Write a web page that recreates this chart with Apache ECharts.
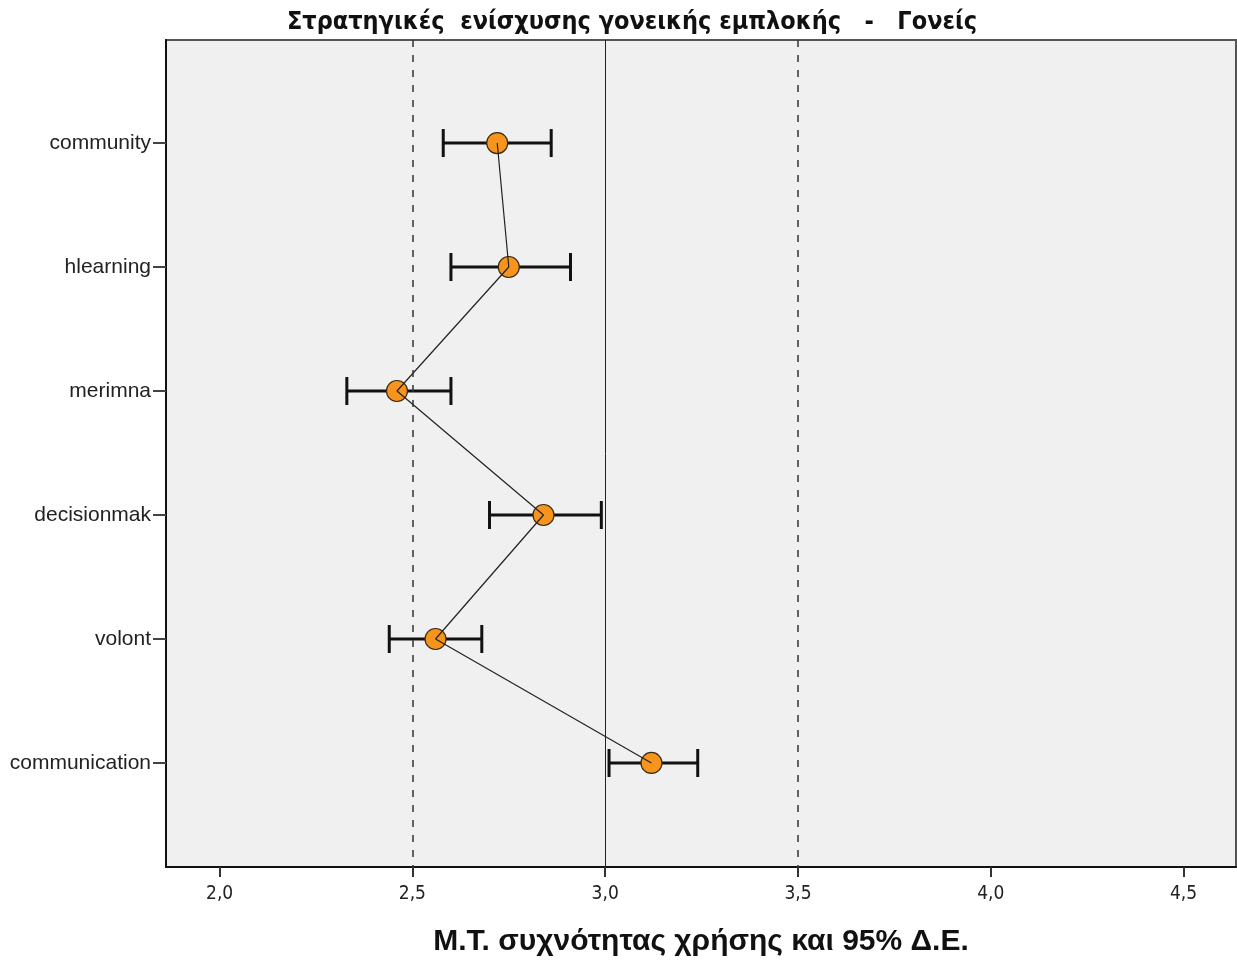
<!DOCTYPE html>
<html>
<head>
<meta charset="utf-8">
<script src="https://cdn.jsdelivr.net/npm/echarts@6/dist/echarts.min.js"></script>
<style>
  html, body { margin: 0; padding: 0; background: #ffffff; }
  #chart { width: 1237px; height: 962px; }
</style>
</head>
<body>
<div id="chart"></div>
<script>
// Strategy names (top to bottom)
const categories = ['community', 'hlearning', 'merimna', 'decisionmak', 'volont', 'communication'];
// Mean frequency of use and 95% confidence interval bounds
const means = [2.72, 2.75, 2.46, 2.84, 2.56, 3.12];
const ciLower = [2.58, 2.60, 2.33, 2.70, 2.44, 3.01];
const ciUpper = [2.86, 2.91, 2.60, 2.99, 2.68, 3.24];
// X axis tick values
const xTicks = [2.0, 2.5, 3.0, 3.5, 4.0, 4.5];
// Reference lines
const dashedRefs = [2.5, 3.5];
const solidRefs = [3.0];

const titleText = 'Στρατηγικές  ενίσχυσης γονεικής εμπλοκής   -   Γονείς';
const xTitle = 'Μ.Τ. συχνότητας χρήσης και 95% Δ.Ε.';

const narrow = '"DejaVu Sans Condensed", "Liberation Sans", sans-serif';

const pointData = means.map((m, i) => [m, i + 1]);
const ciData = categories.map((c, i) => [i + 1, ciLower[i], ciUpper[i]]);

const chart = echarts.init(document.getElementById('chart'), null, { renderer: 'canvas' });

chart.setOption({
  animation: false,
  backgroundColor: '#ffffff',
  title: {
    text: titleText,
    left: 627,
    top: 5,
    textAlign: 'center',
    textStyle: {
      fontFamily: '"DejaVu Sans Condensed", "DejaVu Sans", sans-serif',
      fontWeight: 'bold',
      fontSize: 25,
      color: '#111'
    }
  },
  grid: {
    left: 166,
    right: 1,
    top: 40,
    bottom: 95,
    outerBoundsMode: 'none',
    containLabel: false,
    show: true,
    backgroundColor: '#f0f0f0',
    borderColor: '#555',
    borderWidth: 2
  },
  xAxis: {
    type: 'value',
    min: 1.861,
    max: 4.636,
    name: xTitle,
    nameLocation: 'middle',
    nameGap: 60,
    nameTextStyle: {
      fontFamily: '"Liberation Sans", Arial, sans-serif',
      fontWeight: 'bold',
      fontSize: 30,
      color: '#111'
    },
    splitLine: { show: false },
    axisLine: { show: true, onZero: false, lineStyle: { color: '#111', width: 2 } },
    axisTick: {
      show: true,
      customValues: xTicks,
      length: 10,
      lineStyle: { color: '#333', width: 2 }
    },
    axisLabel: {
      customValues: xTicks,
      margin: 18,
      fontFamily: narrow,
      fontSize: 19,
      color: '#222',
      formatter: v => v.toFixed(1).replace('.', ',')
    }
  },
  yAxis: {
    type: 'value',
    inverse: true,
    min: 0.169,
    max: 6.839,
    splitLine: { show: false },
    axisLine: { show: true, onZero: false, lineStyle: { color: '#111', width: 2 } },
    axisTick: {
      show: true,
      customValues: [1, 2, 3, 4, 5, 6],
      length: 13,
      lineStyle: { color: '#444', width: 2 }
    },
    axisLabel: {
      customValues: [1, 2, 3, 4, 5, 6],
      margin: 15,
      fontFamily: '"Liberation Sans", Arial, sans-serif',
      fontSize: 21,
      color: '#222',
      formatter: v => categories[Math.round(v) - 1] || ''
    }
  },
  series: [
    {
      // reference lines
      type: 'line',
      data: [],
      z: 1,
      markLine: {
        silent: true,
        symbol: 'none',
        label: { show: false },
        data: dashedRefs.map(v => ({ xAxis: v, lineStyle: { type: [7, 8], color: '#333', width: 1.5 } }))
          .concat(solidRefs.map(v => ({ xAxis: v, lineStyle: { type: 'solid', color: '#222', width: 1 } })))
      }
    },
    {
      // 95% CI bars
      type: 'custom',
      z: 2,
      data: ciData,
      renderItem: function (params, api) {
        const y = api.value(0);
        const lo = api.coord([api.value(1), y]);
        const hi = api.coord([api.value(2), y]);
        const half = 14;
        const style = { stroke: '#111', lineWidth: 3 };
        return {
          type: 'group',
          children: [
            { type: 'line', shape: { x1: lo[0], y1: lo[1], x2: hi[0], y2: hi[1] }, style },
            { type: 'line', shape: { x1: lo[0], y1: lo[1] - half, x2: lo[0], y2: lo[1] + half }, style },
            { type: 'line', shape: { x1: hi[0], y1: hi[1] - half, x2: hi[0], y2: hi[1] + half }, style }
          ]
        };
      }
    },
    {
      // mean markers
      type: 'scatter',
      z: 3,
      data: pointData,
      symbol: 'circle',
      symbolSize: 21,
      itemStyle: { color: '#F7941D', borderColor: '#3a2a10', borderWidth: 1.2, opacity: 1 }
    },
    {
      // connecting line through means
      type: 'line',
      z: 4,
      data: pointData,
      showSymbol: false,
      lineStyle: { color: '#222', width: 1.2 }
    }
  ]
});
</script>
</body>
</html>
